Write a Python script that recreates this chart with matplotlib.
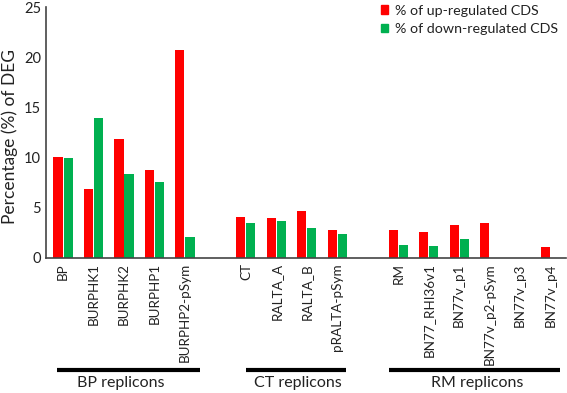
import matplotlib
matplotlib.use("Agg")
import matplotlib.pyplot as plt
from matplotlib.patches import Patch

plt.rcParams['font.family'] = ['Lato', 'DejaVu Sans']

# replicon names and slot positions (empty slot between groups)
replicons = ['BP', 'BURPHK1', 'BURPHK2', 'BURPHP1', 'BURPHP2-pSym',
             'CT', 'RALTA_A', 'RALTA_B', 'pRALTA-pSym',
             'RM', 'BN77_RHI36v1', 'BN77v_p1', 'BN77v_p2-pSym', 'BN77v_p3', 'BN77v_p4']
slots = [0, 1, 2, 3, 4, 6, 7, 8, 9, 11, 12, 13, 14, 15, 16]

up_pct = [10.05, 6.9, 11.85, 8.75, 20.7,
          4.1, 3.95, 4.65, 2.75,
          2.75, 2.55, 3.25, 3.45, 0.0, 1.05]
down_pct = [9.95, 13.9, 8.35, 7.55, 2.05,
            3.45, 3.65, 2.95, 2.4,
            1.25, 1.15, 1.85, 0.0, 0.0, 0.0]

groups = ['BP replicons', 'CT replicons', 'RM replicons']
group_spans = [(-0.2, 4.5), (6.0, 9.3), (10.7, 16.3)]
group_label_x = [1.9, 7.7, 13.6]

red = '#ff0000'
green = '#00b050'

fig = plt.figure(figsize=(5.67, 3.93), dpi=100)
ax = fig.add_axes([0.0811, 0.3443, 0.9169, 0.6371])

w = 0.3
ax.bar([s - 0.165 for s in slots], up_pct, width=w, color=red)
ax.bar([s + 0.165 for s in slots], down_pct, width=w, color=green)

ax.set_xlim(-0.56, 16.5)
ax.set_ylim(0, 25)
ax.set_yticks([0, 5, 10, 15, 20, 25])
ax.set_xticks(slots)
ax.set_xticklabels(replicons, rotation=90, va='top', ha='center', fontsize=9.7)
ax.tick_params(axis='both', length=0, colors='#222222')
ax.tick_params(axis='y', pad=3.5, labelsize=10.5)
ax.tick_params(axis='x', pad=4)
for sp in ['top', 'right']:
    ax.spines[sp].set_visible(False)
for sp in ['left', 'bottom']:
    ax.spines[sp].set_color('#444444')
    ax.spines[sp].set_linewidth(1.2)

ax.set_ylabel('Percentage (%) of DEG', fontsize=12.5, color='#222222')
ax.yaxis.set_label_coords(-0.053, 0.485)

# group brackets under the tick labels
tr = ax.get_xaxis_transform()
for name, (x0, x1), tx in zip(groups, group_spans, group_label_x):
    ax.plot([x0, x1], [-0.45, -0.45], color='black', lw=3, transform=tr,
            clip_on=False, solid_capstyle='butt')
    ax.text(tx, -0.50, name, transform=tr, ha='center', va='center',
            fontsize=11.5, color='#222222')

handles = [Patch(color=red, label='% of up-regulated CDS'),
           Patch(color=green, label='% of down-regulated CDS')]
ax.legend(handles=handles, loc='upper left', bbox_to_anchor=(0.662, 1.003),
          bbox_transform=fig.transFigure, frameon=False, fontsize=10.3,
          handlelength=0.5, handleheight=0.5, handletextpad=0.5, labelspacing=0.45,
          borderaxespad=0, labelcolor='#222222')

fig.savefig('out.png', dpi=100)
